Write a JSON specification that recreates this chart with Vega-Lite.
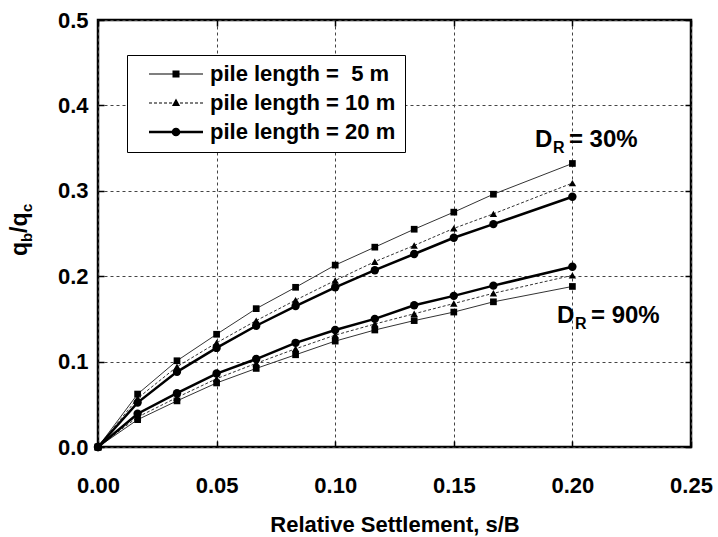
{
  "$schema": "https://vega.github.io/schema/vega-lite/v6.json",
  "width": 593,
  "height": 427,
  "autosize": {"type": "none"},
  "padding": {"left": 98, "top": 20, "right": 27, "bottom": 90},
  "background": "white",
  "config": {
    "view": {"stroke": "black", "strokeWidth": 2.5},
    "font": "Liberation Sans",
    "axis": {
      "labelFont": "Liberation Sans", "labelFontWeight": "bold", "labelFontSize": 22, "labelColor": "black", "labelFlush": false,
      "titleFont": "Liberation Sans", "titleFontWeight": "bold", "titleFontSize": 22, "titleColor": "black",
      "tickColor": "black", "tickWidth": 1.5, "tickSize": -6, "domain": false,
      "gridColor": "#444", "gridDash": [3, 3], "gridWidth": 1, "gridOpacity": 1
    }
  },
  "datasets": {
    "curves": [
      {"sb": 0, "q": 0, "pile": "pile length = \u00a05 m", "dr": "30%"},
      {"sb": 0.0167, "q": 0.062, "pile": "pile length = \u00a05 m", "dr": "30%"},
      {"sb": 0.0333, "q": 0.101, "pile": "pile length = \u00a05 m", "dr": "30%"},
      {"sb": 0.05, "q": 0.132, "pile": "pile length = \u00a05 m", "dr": "30%"},
      {"sb": 0.0667, "q": 0.162, "pile": "pile length = \u00a05 m", "dr": "30%"},
      {"sb": 0.0833, "q": 0.187, "pile": "pile length = \u00a05 m", "dr": "30%"},
      {"sb": 0.1, "q": 0.213, "pile": "pile length = \u00a05 m", "dr": "30%"},
      {"sb": 0.1167, "q": 0.234, "pile": "pile length = \u00a05 m", "dr": "30%"},
      {"sb": 0.1333, "q": 0.255, "pile": "pile length = \u00a05 m", "dr": "30%"},
      {"sb": 0.15, "q": 0.275, "pile": "pile length = \u00a05 m", "dr": "30%"},
      {"sb": 0.1667, "q": 0.296, "pile": "pile length = \u00a05 m", "dr": "30%"},
      {"sb": 0.2, "q": 0.332, "pile": "pile length = \u00a05 m", "dr": "30%"},
      {"sb": 0, "q": 0, "pile": "pile length = 10 m", "dr": "30%"},
      {"sb": 0.0167, "q": 0.057, "pile": "pile length = 10 m", "dr": "30%"},
      {"sb": 0.0333, "q": 0.094, "pile": "pile length = 10 m", "dr": "30%"},
      {"sb": 0.05, "q": 0.122, "pile": "pile length = 10 m", "dr": "30%"},
      {"sb": 0.0667, "q": 0.148, "pile": "pile length = 10 m", "dr": "30%"},
      {"sb": 0.0833, "q": 0.172, "pile": "pile length = 10 m", "dr": "30%"},
      {"sb": 0.1, "q": 0.195, "pile": "pile length = 10 m", "dr": "30%"},
      {"sb": 0.1167, "q": 0.217, "pile": "pile length = 10 m", "dr": "30%"},
      {"sb": 0.1333, "q": 0.236, "pile": "pile length = 10 m", "dr": "30%"},
      {"sb": 0.15, "q": 0.256, "pile": "pile length = 10 m", "dr": "30%"},
      {"sb": 0.1667, "q": 0.273, "pile": "pile length = 10 m", "dr": "30%"},
      {"sb": 0.2, "q": 0.309, "pile": "pile length = 10 m", "dr": "30%"},
      {"sb": 0, "q": 0, "pile": "pile length = 20 m", "dr": "30%"},
      {"sb": 0.0167, "q": 0.052, "pile": "pile length = 20 m", "dr": "30%"},
      {"sb": 0.0333, "q": 0.088, "pile": "pile length = 20 m", "dr": "30%"},
      {"sb": 0.05, "q": 0.116, "pile": "pile length = 20 m", "dr": "30%"},
      {"sb": 0.0667, "q": 0.142, "pile": "pile length = 20 m", "dr": "30%"},
      {"sb": 0.0833, "q": 0.165, "pile": "pile length = 20 m", "dr": "30%"},
      {"sb": 0.1, "q": 0.187, "pile": "pile length = 20 m", "dr": "30%"},
      {"sb": 0.1167, "q": 0.207, "pile": "pile length = 20 m", "dr": "30%"},
      {"sb": 0.1333, "q": 0.226, "pile": "pile length = 20 m", "dr": "30%"},
      {"sb": 0.15, "q": 0.245, "pile": "pile length = 20 m", "dr": "30%"},
      {"sb": 0.1667, "q": 0.261, "pile": "pile length = 20 m", "dr": "30%"},
      {"sb": 0.2, "q": 0.293, "pile": "pile length = 20 m", "dr": "30%"},
      {"sb": 0, "q": 0, "pile": "pile length = \u00a05 m", "dr": "90%"},
      {"sb": 0.0167, "q": 0.032, "pile": "pile length = \u00a05 m", "dr": "90%"},
      {"sb": 0.0333, "q": 0.054, "pile": "pile length = \u00a05 m", "dr": "90%"},
      {"sb": 0.05, "q": 0.075, "pile": "pile length = \u00a05 m", "dr": "90%"},
      {"sb": 0.0667, "q": 0.092, "pile": "pile length = \u00a05 m", "dr": "90%"},
      {"sb": 0.0833, "q": 0.108, "pile": "pile length = \u00a05 m", "dr": "90%"},
      {"sb": 0.1, "q": 0.124, "pile": "pile length = \u00a05 m", "dr": "90%"},
      {"sb": 0.1167, "q": 0.137, "pile": "pile length = \u00a05 m", "dr": "90%"},
      {"sb": 0.1333, "q": 0.148, "pile": "pile length = \u00a05 m", "dr": "90%"},
      {"sb": 0.15, "q": 0.158, "pile": "pile length = \u00a05 m", "dr": "90%"},
      {"sb": 0.1667, "q": 0.170, "pile": "pile length = \u00a05 m", "dr": "90%"},
      {"sb": 0.2, "q": 0.188, "pile": "pile length = \u00a05 m", "dr": "90%"},
      {"sb": 0, "q": 0, "pile": "pile length = 10 m", "dr": "90%"},
      {"sb": 0.0167, "q": 0.035, "pile": "pile length = 10 m", "dr": "90%"},
      {"sb": 0.0333, "q": 0.058, "pile": "pile length = 10 m", "dr": "90%"},
      {"sb": 0.05, "q": 0.080, "pile": "pile length = 10 m", "dr": "90%"},
      {"sb": 0.0667, "q": 0.098, "pile": "pile length = 10 m", "dr": "90%"},
      {"sb": 0.0833, "q": 0.115, "pile": "pile length = 10 m", "dr": "90%"},
      {"sb": 0.1, "q": 0.131, "pile": "pile length = 10 m", "dr": "90%"},
      {"sb": 0.1167, "q": 0.144, "pile": "pile length = 10 m", "dr": "90%"},
      {"sb": 0.1333, "q": 0.156, "pile": "pile length = 10 m", "dr": "90%"},
      {"sb": 0.15, "q": 0.168, "pile": "pile length = 10 m", "dr": "90%"},
      {"sb": 0.1667, "q": 0.180, "pile": "pile length = 10 m", "dr": "90%"},
      {"sb": 0.2, "q": 0.201, "pile": "pile length = 10 m", "dr": "90%"},
      {"sb": 0, "q": 0, "pile": "pile length = 20 m", "dr": "90%"},
      {"sb": 0.0167, "q": 0.039, "pile": "pile length = 20 m", "dr": "90%"},
      {"sb": 0.0333, "q": 0.063, "pile": "pile length = 20 m", "dr": "90%"},
      {"sb": 0.05, "q": 0.086, "pile": "pile length = 20 m", "dr": "90%"},
      {"sb": 0.0667, "q": 0.103, "pile": "pile length = 20 m", "dr": "90%"},
      {"sb": 0.0833, "q": 0.122, "pile": "pile length = 20 m", "dr": "90%"},
      {"sb": 0.1, "q": 0.137, "pile": "pile length = 20 m", "dr": "90%"},
      {"sb": 0.1167, "q": 0.150, "pile": "pile length = 20 m", "dr": "90%"},
      {"sb": 0.1333, "q": 0.166, "pile": "pile length = 20 m", "dr": "90%"},
      {"sb": 0.15, "q": 0.177, "pile": "pile length = 20 m", "dr": "90%"},
      {"sb": 0.1667, "q": 0.189, "pile": "pile length = 20 m", "dr": "90%"},
      {"sb": 0.2, "q": 0.211, "pile": "pile length = 20 m", "dr": "90%"}
    ],
    "dr": [
      {"x": 0.1842, "y": 0.3513, "rest": "= 30%"},
      {"x": 0.1935, "y": 0.1452, "rest": "= 90%"}
    ],
    "ytitle": [
      {"x": -0.0299, "y": 0.2237}
    ]
  },
  "layer": [
    {
      "data": {"name": "curves"},
      "transform": [{"filter": {"field": "pile", "equal": "pile length = \u00a05 m"}}],
      "mark": {"type": "line", "color": "#333", "strokeWidth": 1, "point": {"shape": "square", "filled": true, "color": "black", "size": 45}},
      "encoding": {
        "x": {"field": "sb", "type": "quantitative", "scale": {"domain": [0, 0.25], "nice": false},
              "axis": {"orient": "bottom", "values": [0, 0.05, 0.1, 0.15, 0.2, 0.25], "format": ".2f", "grid": true, "labelPadding": 34, "title": "Relative Settlement, s/B", "titlePadding": 18}},
        "y": {"field": "q", "type": "quantitative", "scale": {"domain": [0, 0.5], "nice": false},
              "axis": {"orient": "left", "values": [0, 0.1, 0.2, 0.3, 0.4, 0.5], "format": ".1f", "grid": true, "labelPadding": 16, "title": null}},
        "detail": {"field": "dr"}
      }
    },
    {
      "data": {"name": "curves"},
      "transform": [{"filter": {"field": "pile", "equal": "pile length = 10 m"}}],
      "mark": {"type": "line", "color": "#333", "strokeWidth": 1, "strokeDash": [3, 2], "point": {"shape": "triangle-up", "filled": true, "color": "black", "size": 55}},
      "encoding": {
        "x": {"field": "sb", "type": "quantitative", "scale": {"domain": [0, 0.25], "nice": false},
              "axis": {"orient": "top", "values": [0, 0.05, 0.1, 0.15, 0.2, 0.25], "labels": false, "grid": false, "title": null}},
        "y": {"field": "q", "type": "quantitative", "scale": {"domain": [0, 0.5], "nice": false},
              "axis": {"orient": "right", "values": [0, 0.1, 0.2, 0.3, 0.4, 0.5], "labels": false, "grid": false, "title": null}},
        "detail": {"field": "dr"}
      }
    },
    {
      "data": {"name": "curves"},
      "transform": [{"filter": {"field": "pile", "equal": "pile length = 20 m"}}],
      "mark": {"type": "line", "color": "black", "strokeWidth": 2.5, "point": {"shape": "circle", "filled": true, "color": "black", "size": 70}},
      "encoding": {
        "x": {"field": "sb", "type": "quantitative", "scale": {"domain": [0, 0.25], "nice": false}, "axis": null},
        "y": {"field": "q", "type": "quantitative", "scale": {"domain": [0, 0.5], "nice": false}, "axis": null},
        "detail": {"field": "dr"}
      }
    },
    {
      "data": {"name": "curves"},
      "mark": {"type": "point", "filled": true, "color": "black", "opacity": 0},
      "encoding": {
        "x": {"field": "sb", "type": "quantitative", "scale": {"domain": [0, 0.25], "nice": false}, "axis": null},
        "y": {"field": "q", "type": "quantitative", "scale": {"domain": [0, 0.5], "nice": false}, "axis": null},
        "shape": {"field": "pile", "type": "nominal",
                  "scale": {"domain": ["pile length = \u00a05 m", "pile length = 10 m", "pile length = 20 m"],
                            "range": [
                              "M-1,-0.019H1V0.019H-1ZM-0.13,-0.13H0.13V0.13H-0.13Z",
                              "M-1,-0.019H-0.889V0.019H-1ZM-0.815,-0.019H-0.704V0.019H-0.815ZM-0.63,-0.019H-0.519V0.019H-0.63ZM-0.444,-0.019H-0.333V0.019H-0.444ZM-0.259,-0.019H-0.148V0.019H-0.259ZM0.148,-0.019H0.259V0.019H0.148ZM0.333,-0.019H0.444V0.019H0.333ZM0.519,-0.019H0.63V0.019H0.519ZM0.704,-0.019H0.815V0.019H0.704ZM0.889,-0.019H1V0.019H0.889ZM0,-0.17L0.15,0.11L-0.15,0.11Z",
                              "M-1,-0.046H1V0.046H-1ZM-0.16,0A0.16,0.16 0 1,1 0.16,0A0.16,0.16 0 1,1 -0.16,0Z"
                            ]},
                  "legend": {
                    "title": null, "orient": "none", "legendX": 29, "legendY": 35,
                    "strokeColor": "black", "fillColor": "white", "padding": 9,
                    "symbolSize": 2916, "symbolOffset": 12, "clipHeight": 20, "rowPadding": 7, "labelOffset": 6,
                    "labelFont": "Liberation Sans", "labelFontWeight": "bold", "labelFontSize": 22, "labelColor": "black", "labelLimit": 400,
                    "symbolOpacity": 1,
                    "encode": {
                      "legend": {"update": {"strokeWidth": {"value": 1.2}}},
                      "symbols": {"update": {"fill": {"value": "black"}, "stroke": {"value": "transparent"}, "strokeWidth": {"value": 0}, "opacity": {"value": 1}, "size": {"value": 2916}}}
                    }
                  }}
      }
    },
    {
      "data": {"name": "dr"},
      "mark": {"type": "text", "text": "D", "align": "left", "baseline": "alphabetic", "fontSize": 24, "fontWeight": "bold", "font": "Liberation Sans", "color": "black"},
      "encoding": {
        "x": {"field": "x", "type": "quantitative", "scale": {"domain": [0, 0.25], "nice": false}, "axis": null},
        "y": {"field": "y", "type": "quantitative", "scale": {"domain": [0, 0.5], "nice": false}, "axis": null}
      }
    },
    {
      "data": {"name": "dr"},
      "mark": {"type": "text", "text": "R", "align": "left", "baseline": "alphabetic", "fontSize": 16, "fontWeight": "bold", "font": "Liberation Sans", "color": "black", "dx": 18, "dy": 6},
      "encoding": {
        "x": {"field": "x", "type": "quantitative", "scale": {"domain": [0, 0.25], "nice": false}, "axis": null},
        "y": {"field": "y", "type": "quantitative", "scale": {"domain": [0, 0.5], "nice": false}, "axis": null}
      }
    },
    {
      "data": {"name": "dr"},
      "mark": {"type": "text", "align": "left", "baseline": "alphabetic", "fontSize": 24, "fontWeight": "bold", "font": "Liberation Sans", "color": "black", "dx": 34},
      "encoding": {
        "x": {"field": "x", "type": "quantitative", "scale": {"domain": [0, 0.25], "nice": false}, "axis": null},
        "y": {"field": "y", "type": "quantitative", "scale": {"domain": [0, 0.5], "nice": false}, "axis": null},
        "text": {"field": "rest"}
      }
    },
    {
      "data": {"name": "ytitle"},
      "mark": {"type": "text", "text": "q", "angle": 270, "align": "left", "baseline": "alphabetic", "fontSize": 23, "fontWeight": "bold", "font": "Liberation Sans", "color": "black"},
      "encoding": {
        "x": {"field": "x", "type": "quantitative", "scale": {"domain": [0, 0.25], "nice": false}, "axis": null},
        "y": {"field": "y", "type": "quantitative", "scale": {"domain": [0, 0.5], "nice": false}, "axis": null}
      }
    },
    {
      "data": {"name": "ytitle"},
      "mark": {"type": "text", "text": "b", "angle": 270, "align": "left", "baseline": "alphabetic", "fontSize": 15, "fontWeight": "bold", "font": "Liberation Sans", "color": "black", "dx": 14, "dy": 5},
      "encoding": {
        "x": {"field": "x", "type": "quantitative", "scale": {"domain": [0, 0.25], "nice": false}, "axis": null},
        "y": {"field": "y", "type": "quantitative", "scale": {"domain": [0, 0.5], "nice": false}, "axis": null}
      }
    },
    {
      "data": {"name": "ytitle"},
      "mark": {"type": "text", "text": "/q", "angle": 270, "align": "left", "baseline": "alphabetic", "fontSize": 23, "fontWeight": "bold", "font": "Liberation Sans", "color": "black", "dx": 23},
      "encoding": {
        "x": {"field": "x", "type": "quantitative", "scale": {"domain": [0, 0.25], "nice": false}, "axis": null},
        "y": {"field": "y", "type": "quantitative", "scale": {"domain": [0, 0.5], "nice": false}, "axis": null}
      }
    },
    {
      "data": {"name": "ytitle"},
      "mark": {"type": "text", "text": "c", "angle": 270, "align": "left", "baseline": "alphabetic", "fontSize": 15, "fontWeight": "bold", "font": "Liberation Sans", "color": "black", "dx": 44, "dy": 5},
      "encoding": {
        "x": {"field": "x", "type": "quantitative", "scale": {"domain": [0, 0.25], "nice": false}, "axis": null},
        "y": {"field": "y", "type": "quantitative", "scale": {"domain": [0, 0.5], "nice": false}, "axis": null}
      }
    }
  ],
  "resolve": {"axis": {"x": "independent", "y": "independent"}}
}
